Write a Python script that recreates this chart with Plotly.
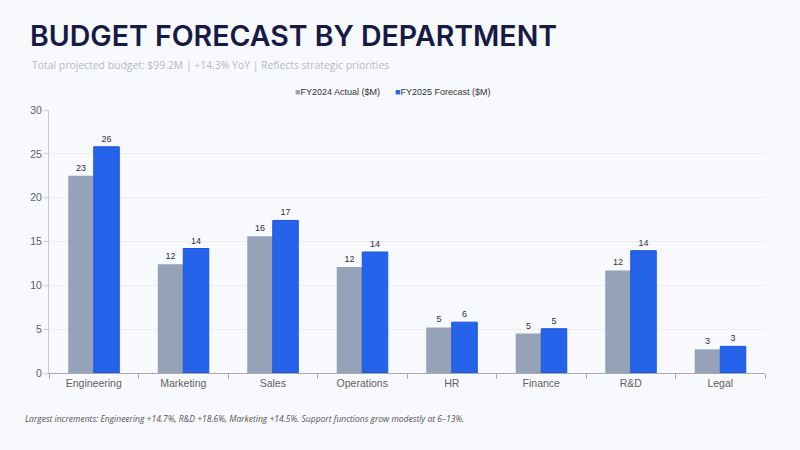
import plotly.graph_objects as go

departments = ["Engineering", "Marketing", "Sales", "Operations", "HR", "Finance", "R&D", "Legal"]
fy2024_actual = [22.5, 12.4, 15.6, 12.1, 5.2, 4.5, 11.7, 2.7]
fy2025_forecast = [25.8, 14.2, 17.4, 13.8, 5.8, 5.05, 13.95, 3.04]
y_ticks = [0, 5, 10, 15, 20, 25, 30]
series_names = ["FY2024 Actual ($M)", "FY2025 Forecast ($M)"]
series_colors = ["#95A2B8", "#2563EB"]

title_text = "BUDGET FORECAST BY DEPARTMENT"
subtitle_text = "Total projected budget: $99.2M | +14.3% YoY | Reflects strategic priorities"
footnote_text = "Largest increments: Engineering +14.7%, R&D +18.6%, Marketing +14.5%. Support functions grow modestly at 6\u201313%."

bg = "#F8F9FC"
PW, PH = 716, 263  # plot area size in px

fig = go.Figure()
fig.add_trace(go.Bar(
    name=series_names[0], x=departments, y=fy2024_actual,
    marker=dict(color=series_colors[0], line=dict(width=0)),
    texttemplate="%{y:.0f}", textposition="outside",
    textfont=dict(family="Liberation Sans, Arial", size=9, color="#333333"),
    cliponaxis=False, showlegend=False,
))
fig.add_trace(go.Bar(
    name=series_names[1], x=departments, y=fy2025_forecast,
    marker=dict(color=series_colors[1], line=dict(width=1, color="#1E55D8")),
    texttemplate="%{y:.0f}", textposition="outside",
    textfont=dict(family="Liberation Sans, Arial", size=9, color="#333333"),
    cliponaxis=False, showlegend=False,
))

legend_text = (
    f'<span style="color:{series_colors[0]}">\u25A0</span>{series_names[0]}'
    f'&nbsp;&nbsp;&nbsp;&nbsp;&nbsp;&nbsp;'
    f'<span style="color:{series_colors[1]}">\u25A0</span>{series_names[1]}'
)

fig.update_layout(
    width=800, height=450,
    paper_bgcolor=bg, plot_bgcolor=bg,
    margin=dict(l=49, r=35, t=110, b=77, autoexpand=False),
    barmode="group", bargap=0.43, bargroupgap=0,
    title=dict(text=title_text, x=30 / 800, xanchor="left", xref="container",
               y=1 - 36 / 450, yanchor="middle", yref="container",
               font=dict(family="Inter", size=28.5, color="#161A45", weight=600)),
    annotations=[
        dict(text=subtitle_text, xref="paper", yref="paper", x=-19 / PW, y=1 + 45 / PH,
             xanchor="left", yanchor="middle", showarrow=False,
             font=dict(family="Open Sans", size=10.4, color="#B5B9C4")),
        dict(text=legend_text, xref="paper", yref="paper", x=(392 - 49) / PW, y=1 + 18 / PH,
             xanchor="center", yanchor="middle", showarrow=False,
             font=dict(family="Liberation Sans, Arial", size=9, color="#333333")),
        dict(text="<i>" + footnote_text + "</i>", xref="paper", yref="paper", x=-26 / PW, y=-45 / PH,
             xanchor="left", yanchor="middle", showarrow=False,
             font=dict(family="Open Sans", size=8.5, color="#555555")),
    ],
)
fig.update_xaxes(
    showline=True, linecolor="#AAAAAA", linewidth=1,
    ticks="outside", tickson="boundaries", ticklen=5, tickcolor="#AAAAAA",
    tickfont=dict(family="Liberation Sans, Arial", size=10.5, color="#5F5F5F"),
    showgrid=False,
)
fig.update_yaxes(
    range=[0, 30], tickvals=y_ticks,
    showline=True, linecolor="#CCCCCC", linewidth=1,
    ticks="outside", ticklen=4, tickcolor="#CCCCCC",
    gridcolor="#ECEDF2", gridwidth=1, zeroline=False,
    tickfont=dict(family="Liberation Sans, Arial", size=10.5, color="#5F5F5F"),
)

fig.write_html(
    "out.html",
    config={"displayModeBar": False},
    post_script="document.body.style.margin='0';document.body.style.background='" + bg + "';",
)
